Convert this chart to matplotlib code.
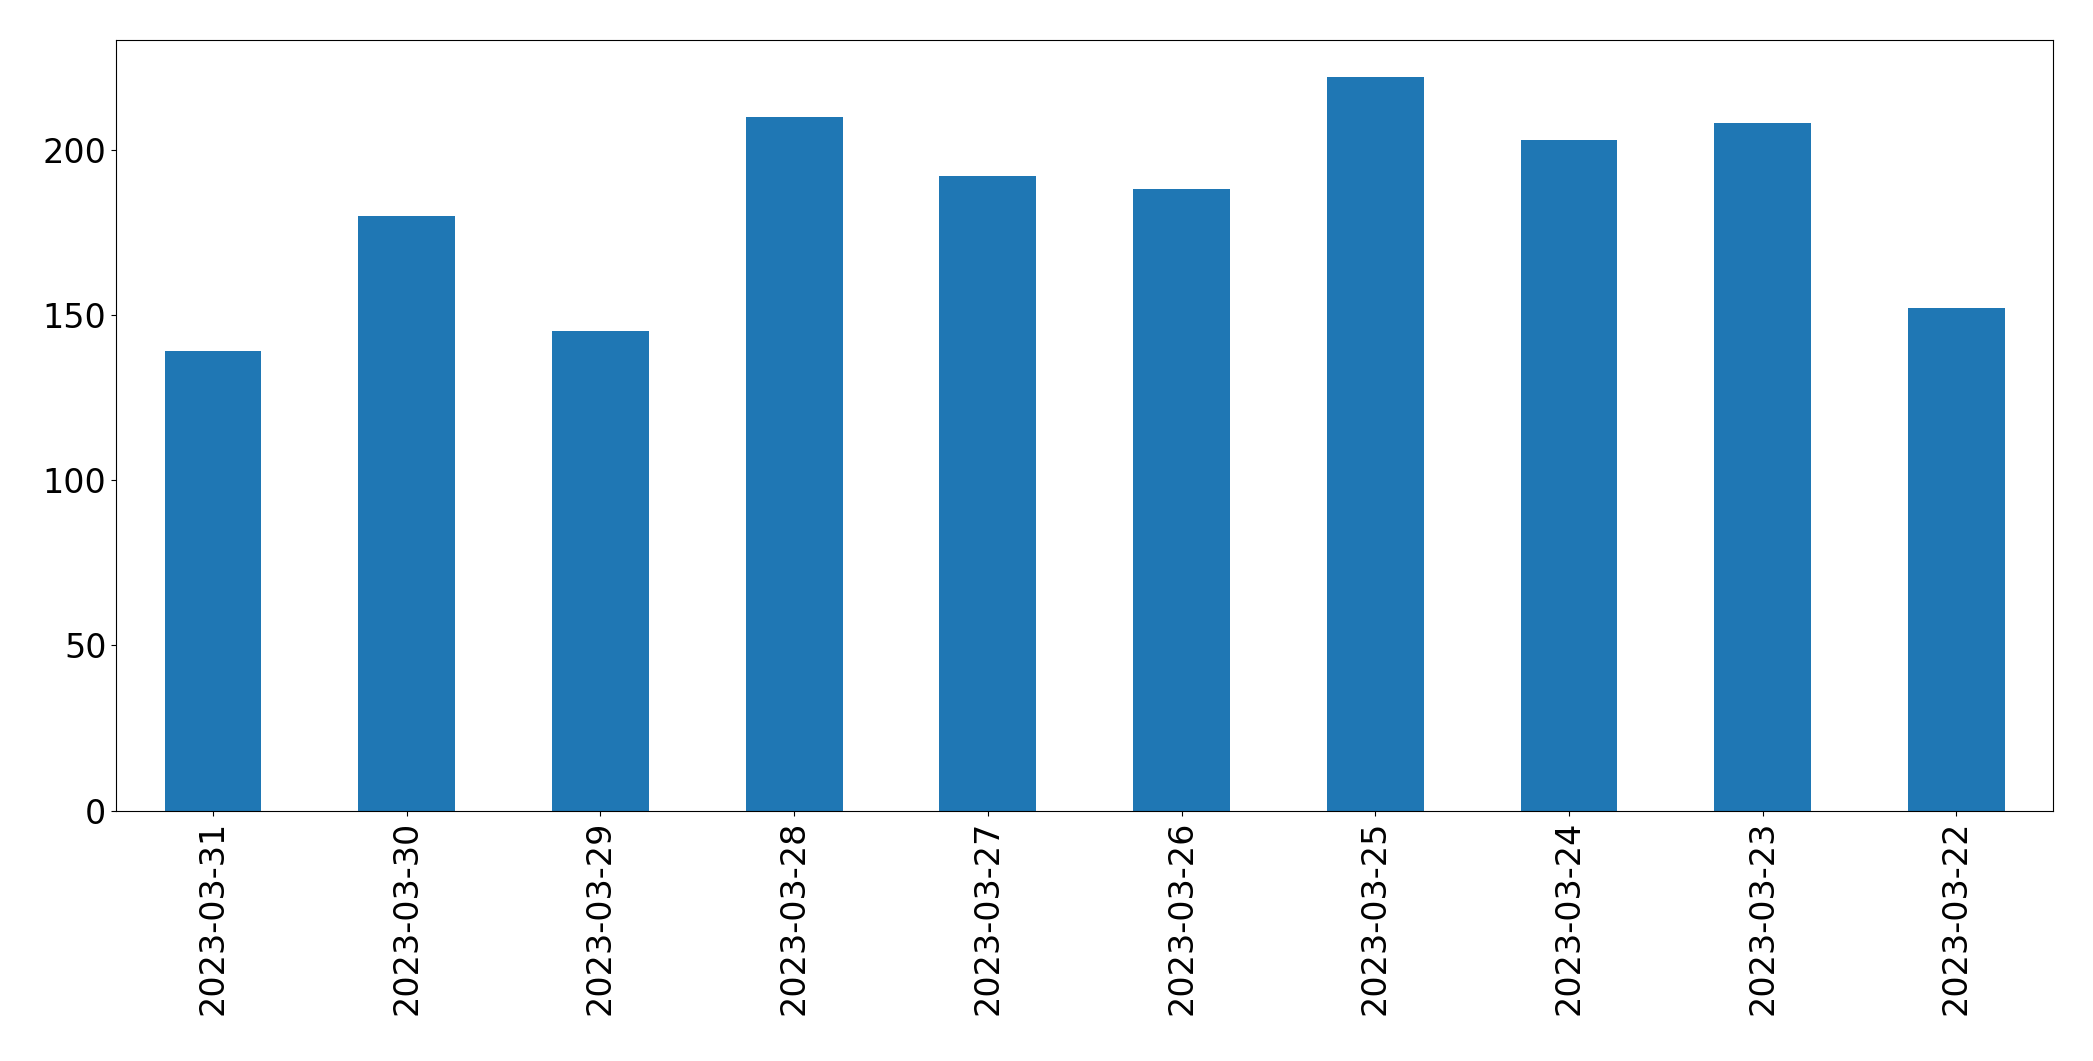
import matplotlib
matplotlib.use('Agg')
import matplotlib.pyplot as plt
import numpy as np

dates = ['2023-03-31', '2023-03-30', '2023-03-29', '2023-03-28', '2023-03-27',
         '2023-03-26', '2023-03-25', '2023-03-24', '2023-03-23', '2023-03-22']
counts = [139, 180, 145, 210, 192, 188, 222, 203, 208, 152]

fig, ax = plt.subplots(figsize=(20.93, 10.61), dpi=100)
x = np.arange(len(dates))
ax.bar(x, counts, width=0.5, color='#1f77b4')
ax.set_xlim(-0.5, len(dates) - 0.5)
ax.set_xticks(x)
ax.set_xticklabels(dates, rotation=90)
ax.tick_params(axis='both', labelsize=24)
plt.subplots_adjust(left=0.0555, right=0.981, top=0.962, bottom=0.236)
plt.savefig('out.png')
